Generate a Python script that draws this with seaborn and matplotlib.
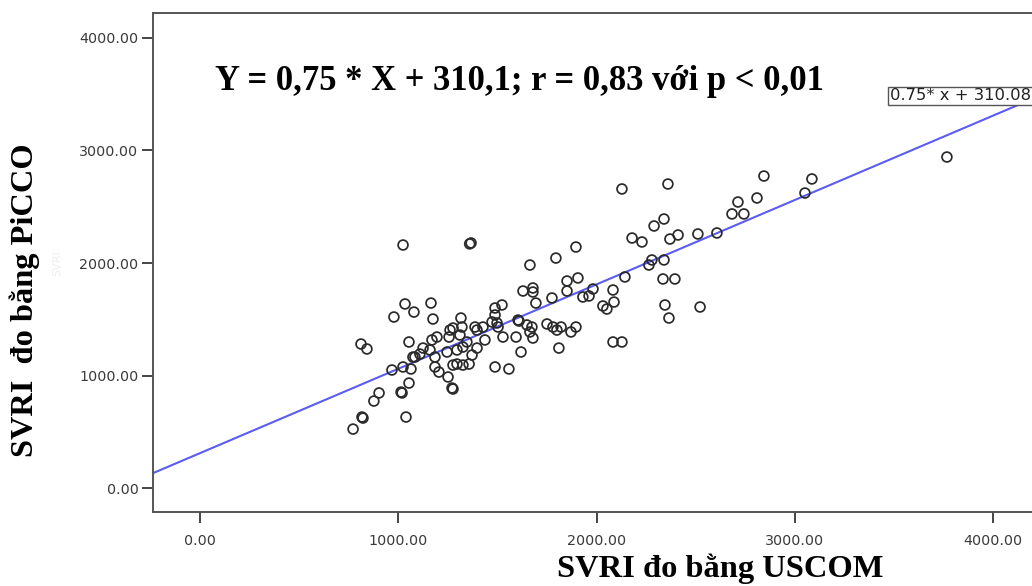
import matplotlib
matplotlib.use("Agg")
import matplotlib.pyplot as plt
import seaborn as sns
import pandas as pd

# Data (SVRI USCOM vs SVRI PiCCO)
svri_uscom = [
    3767, 2360, 2844, 3086, 3051, 2809, 2713, 2683, 2743, 2340,
    2290, 2411, 2370, 2511, 2607, 2229, 2179, 2279, 2264, 2340,
    2335, 2395, 2345, 2522, 2365, 1896, 1795, 1664, 1851, 1906,
    2143, 1629, 1679, 1679, 1851, 1775, 1694, 1931, 1962, 1982,
    2083, 2032, 2052, 2088, 1488, 1523, 1488, 1473, 1609, 1649,
    1674, 1750, 1780, 1821, 1896, 1503, 1528, 1594, 1664, 1679,
    1800, 1871, 1619, 1810, 2083, 2128, 1488, 1558, 1024, 1367,
    1360, 1034, 1079, 978, 1165, 1175, 1316, 1276, 1387, 1427,
    812, 842, 1054, 968, 1024, 1064, 1084, 1109, 1125, 1170,
    1195, 1261, 1321, 1311, 1397, 1437, 1498, 1246, 1296, 1326,
    1346, 1372, 1397, 1185, 1205, 1251, 1276, 1296, 1326, 1357,
    1271, 1276, 1054, 1014, 1019, 903, 877, 817, 822, 1039,
    772, 1160, 1256, 1185, 1074, 1604, 2128,
]
svri_picco = [
    2942, 2702, 2773, 2747, 2622, 2578, 2542, 2436, 2436, 2391,
    2329, 2249, 2213, 2258, 2267, 2187, 2222, 2027, 1982, 2027,
    1858, 1858, 1627, 1609, 1511, 2142, 2044, 1982, 1840, 1867,
    1876, 1751, 1778, 1742, 1751, 1689, 1644, 1698, 1707, 1769,
    1760, 1618, 1591, 1653, 1600, 1627, 1538, 1476, 1484, 1449,
    1431, 1458, 1431, 1431, 1431, 1431, 1342, 1342, 1387, 1333,
    1404, 1387, 1209, 1244, 1298, 1298, 1076, 1058, 2160, 2178,
    2170, 1636, 1564, 1520, 1644, 1502, 1511, 1422, 1431, 1431,
    1280, 1236, 1298, 1049, 1076, 1058, 1164, 1191, 1244, 1316,
    1342, 1404, 1431, 1360, 1404, 1316, 1467, 1209, 1227, 1253,
    1298, 1182, 1244, 1076, 1031, 987, 1093, 1102, 1093, 1102,
    889, 880, 933, 853, 845, 845, 773, 631, 622, 631,
    524, 1227, 1342, 1164, 1164, 1493, 2658,
]
fit_slope = 0.75
fit_intercept = 310.08
fit_label = "0.75* x + 310.08"
equation_text = "Y = 0,75 * X + 310,1; r = 0,83 với p < 0,01"
x_title = "SVRI đo bằng USCOM"
y_title = "SVRI  đo bằng PiCCO"
tick_values = [0, 1000, 2000, 3000, 4000]

df = pd.DataFrame({"uscom": svri_uscom, "picco": svri_picco})

sns.set_style("white")
plt.rcParams["font.family"] = ["DejaVu Sans"]

W, H = 1032, 586
fig = plt.figure(figsize=(W / 100, H / 100), dpi=100)
ax = fig.add_axes([153 / W, 74 / H, 1 - 153 / W, (512 - 13) / H])

sns.scatterplot(data=df, x="uscom", y="picco", ax=ax, marker="o", s=50,
                facecolor="none", edgecolor="#2a2a2a", linewidth=1.25, zorder=3)

ax.axline((0, fit_intercept), slope=fit_slope, color="#5a5cf2", lw=1.5, zorder=2)

ax.set_xlim(-237, 4196)
ax.set_ylim(-213, 4222)
ax.set_xticks(tick_values)
ax.set_yticks(tick_values)
ax.set_xticklabels([f"{v:.2f}" for v in tick_values])
ax.set_yticklabels([f"{v:.2f}" for v in tick_values])
ax.tick_params(axis="both", which="major", bottom=True, left=True,
               direction="out", length=8, width=1.4, color="#444444",
               labelsize=10.3, labelcolor="#3a3a3a", pad=2.5)
ax.tick_params(axis="x", pad=8)
ax.set_xlabel("")
ax.set_ylabel("")
for side in ["left", "bottom", "top"]:
    ax.spines[side].set_color("#555555")
    ax.spines[side].set_linewidth(1.4)
ax.spines["right"].set_visible(False)

serif = ["Liberation Serif", "DejaVu Serif"]
fig.text(215 / W, 1 - 90 / H, equation_text, family=serif, weight="bold",
         fontsize=24.9, ha="left", va="baseline", color="black")
fig.text(720 / W, 1 - 577 / H, x_title, family=serif, weight="bold",
         fontsize=23.4, ha="center", va="baseline", color="black")
fig.text(25 / W, 1 - 300 / H, y_title, family=serif, weight="bold",
         fontsize=23.3, ha="center", va="center", rotation=90, color="black")

# faint ghost label
fig.text(57 / W, 1 - 263 / H, "SVRI", fontsize=8, rotation=90, color="#eeeeee",
         ha="center", va="center")

fig.text(890 / W, 1 - 96 / H, fit_label, fontsize=11.8, color="#222222",
         ha="left", va="center",
         bbox=dict(boxstyle="square,pad=0.1", facecolor="white",
                   edgecolor="#555555", linewidth=1.0))

fig.savefig("out.png", dpi=100)
